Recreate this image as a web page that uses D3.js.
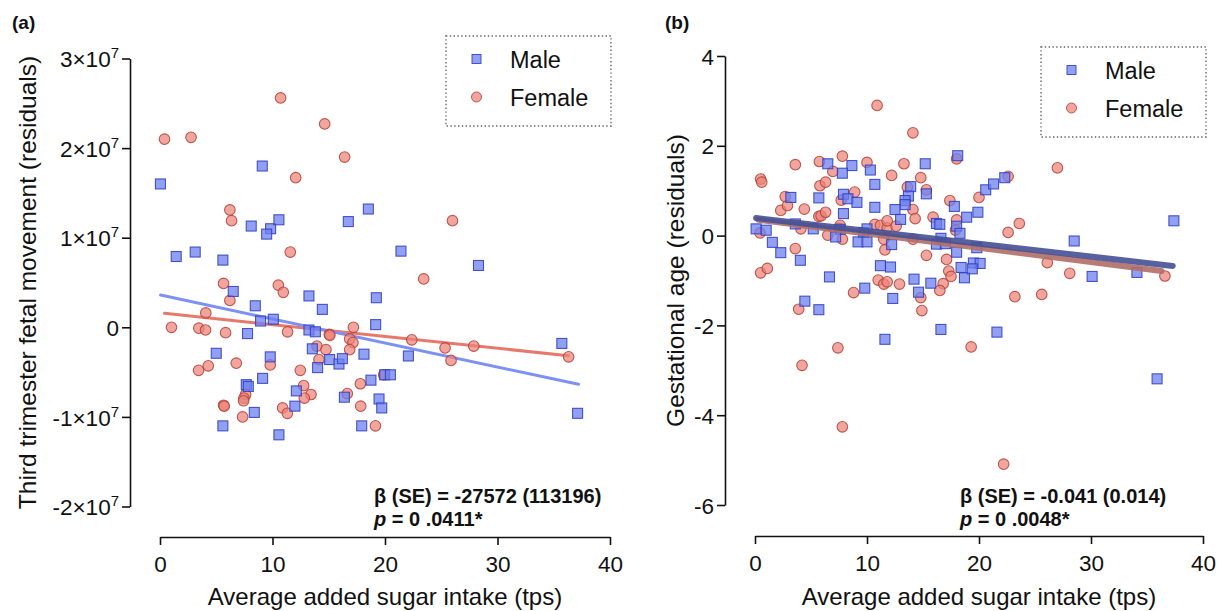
<!doctype html>
<html>
<head>
  <meta charset="utf8">
  <title>sugar intake</title>
  <style>
    body { margin: 0; padding: 0; background: #fff; }
    svg { display: block; }
  </style>
</head>
<body>
  <svg id="chart"></svg>

  <script src="https://d3js.org/d3.v7.min.js"></script>
  <script>
    // Two residual scatter plots vs average added sugar intake, by sex
    const width = 1223
    const height = 611
    const font = '"Liberation Sans", Arial, Helvetica, sans-serif'

    const series = ['Male', 'Female']
    const xTicks = [0, 10, 20, 30, 40]
    const movementTicks = [-2, -1, 0, 1, 2, 3]   // in units of 10^7
    const gestTicks = [-6, -4, -2, 0, 2, 4]

    // (a) third trimester fetal movement residuals, y in units of 10^7
    const movementMale = [
      [0.04, 1.60], [9.09, 1.80], [1.44, 0.79], [3.13, 0.84], [5.59, 0.75], [8.11, 1.13], [9.83, 1.10],
      [9.48, 1.04], [10.57, 1.20], [6.51, 0.40], [8.47, 0.24], [8.94, 0.07], [10.07, 0.09], [7.78, -0.07],
      [13.24, 0.35], [14.43, 0.20], [13.24, -0.03], [13.81, -0.05], [18.52, 1.32], [16.74, 1.18],
      [19.23, 0.33], [19.17, 0.03], [5.0, -0.29], [9.8, -0.33], [13.54, -0.24], [14.01, -0.45],
      [15.08, -0.36], [15.91, -0.41], [16.21, -0.35], [18.13, -0.30], [9.12, -0.57], [7.67, -0.64],
      [7.85, -0.66], [12.12, -0.71], [16.39, -0.78], [18.75, -0.59], [19.47, -0.80], [11.99, -0.88],
      [8.38, -0.95], [5.59, -1.10], [10.57, -1.20], [17.93, -1.10], [21.42, 0.85], [28.31, 0.69],
      [22.08, -0.32], [35.72, -0.18], [19.97, -0.53], [20.48, -0.53], [19.71, -0.90], [37.12, -0.96]
    ]
    const movementFemale = [
      [0.40, 2.10], [2.76, 2.12], [10.72, 2.56], [14.64, 2.27], [16.41, 1.90], [12.06, 1.67], [6.21, 1.31],
      [6.36, 1.19], [11.58, 0.84], [5.65, 0.49], [6.21, 0.30], [10.52, 0.47], [10.96, 0.39], [4.07, 0.16],
      [1.02, 0.00], [3.45, -0.01], [4.05, -0.03], [5.83, -0.06], [11.34, -0.05], [15.05, -0.08],
      [15.10, -0.09], [17.19, 0.00], [16.86, -0.13], [17.15, -0.17], [13.95, -0.21], [14.75, -0.25],
      [16.86, -0.25], [14.13, -0.36], [3.43, -0.48], [4.29, -0.43], [6.78, -0.40], [9.80, -0.42],
      [12.47, -0.48], [12.77, -0.65], [13.42, -0.75], [12.83, -0.79], [7.61, -0.75], [7.46, -0.79],
      [7.43, -0.82], [5.65, -0.87], [5.71, -0.88], [7.34, -1.00], [10.90, -0.90], [11.32, -0.96],
      [17.81, -0.63], [16.65, -0.74], [17.84, -0.88], [19.15, -1.10], [26.0, 1.19], [23.44, 0.54],
      [22.38, -0.14], [25.34, -0.23], [27.89, -0.21], [25.87, -0.37], [36.32, -0.33], [19.88, -0.53]
    ]
    const movementFitMale = [[0.05, 0.36], [37.2, -0.636]]
    const movementFitFemale = [[0.4, 0.156], [36.3, -0.317]]

    // (b) gestational age residuals
    const gestMale = [
      [6.5, 1.60], [8.65, 1.56], [7.8, 1.39], [10.3, 1.46], [15.2, 1.60], [18.1, 1.78], [10.7, 1.14],
      [13.9, 1.09], [13.7, 0.88], [13.4, 0.78], [13.4, 0.69], [15.3, 0.93], [3.2, 0.85], [5.7, 0.84],
      [7.9, 0.92], [8.3, 0.82], [9.1, 0.74], [10.7, 0.63], [12.5, 0.58], [13.0, 0.36], [17.8, 0.65],
      [7.9, 0.49], [0.1, 0.15], [1.0, 0.12], [3.6, 0.26], [5.2, 0.15], [7.6, 0.14], [7.2, -0.03],
      [9.7, 0.07], [10.0, 0.15], [9.2, -0.14], [10.0, -0.14], [12.2, -0.20], [16.2, 0.27], [16.5, 0.25],
      [18.0, 0.21], [18.3, 0.05], [16.6, -0.06], [16.2, -0.19], [17.0, -0.18], [1.55, -0.15], [2.3, -0.38],
      [4.05, -0.55], [11.2, -0.67], [12.1, -0.70], [18.0, -0.37], [18.4, -0.71], [18.7, -0.94], [6.65, -0.92],
      [14.2, -0.97], [15.7, -1.06], [9.8, -1.17], [14.6, -1.26], [12.3, -1.40], [4.45, -1.46], [5.7, -1.65],
      [19.8, -0.27], [19.5, -0.61], [20.1, -0.62], [19.4, -0.74], [20.6, 1.02], [21.3, 1.15], [22.3, 1.29],
      [19.9, 0.52], [18.9, 0.41], [28.5, -0.12], [30.1, -0.91], [34.1, -0.82], [37.4, 0.33],
      [16.6, -2.09], [21.6, -2.15], [11.6, -2.31], [35.9, -3.19]
    ]
    const gestFemale = [
      [14.1, 2.29], [10.9, 2.90], [3.6, 1.58], [5.75, 1.65], [7.8, 1.77], [10.0, 1.63], [13.3, 1.60],
      [12.2, 1.34], [14.8, 1.29], [0.5, 1.26], [0.6, 1.19], [6.95, 1.43], [5.8, 1.11], [6.3, 1.19],
      [8.9, 0.97], [13.6, 1.08], [15.3, 1.02], [2.7, 0.87], [2.3, 0.56], [2.9, 0.67], [4.4, 0.59],
      [5.7, 0.43], [5.9, 0.44], [6.3, 0.52], [7.7, 0.79], [7.5, 0.16], [7.6, 0.23], [4.1, 0.15],
      [0.45, 0.06], [6.5, 0.01], [7.8, -0.08], [10.7, 0.25], [11.2, 0.23], [11.8, 0.17], [12.6, 0.21],
      [11.8, 0.33], [14.1, 0.58], [14.3, 0.38], [15.9, 0.41], [17.4, 0.78], [18.0, 0.35], [17.9, 0.12],
      [11.5, -0.08], [11.6, -0.32], [14.1, -0.08], [15.3, -0.44], [17.1, -0.53], [3.6, -0.29],
      [0.5, -0.83], [1.1, -0.73], [11.0, -0.99], [11.5, -1.08], [11.8, -1.03], [12.9, -1.08],
      [17.3, -0.79], [17.5, -0.91], [16.8, -1.07], [16.5, -1.22], [8.8, -1.27], [14.8, -1.38],
      [3.9, -1.64], [14.9, -1.67], [18.0, 1.71], [20.0, 0.85], [22.6, 1.32], [27.0, 1.51], [23.6, 0.27],
      [22.6, 0.07], [26.1, -0.60], [28.1, -0.84], [36.6, -0.90], [23.2, -1.36], [25.6, -1.31],
      [7.4, -2.50], [4.2, -2.89], [19.3, -2.48], [7.8, -4.26], [22.2, -5.09]
    ]
    const gestFitMale = [[0.1, 0.39], [37.3, -0.675]]
    const gestFitFemale = [[0.3, 0.35], [36.3, -0.79]]

    const svg = d3.select('#chart')
      .attr('width', width)
      .attr('height', height)
      .style('font-family', font)

    svg.append('rect').attr('width', width).attr('height', height).attr('fill', '#fff')

    const maleFill = 'rgba(110,128,240,0.75)'
    const maleStroke = 'rgba(45,60,190,0.85)'
    const femaleFill = 'rgba(234,132,122,0.72)'
    const femaleStroke = 'rgba(185,62,52,0.85)'

    function sciLabel (sel, d) {
      // "3×10^7" style labels, hyphen minus like the original
      if (d === 0) { sel.text('0'); return }
      sel.text(null)
      sel.append('tspan').text((d < 0 ? '-' : '') + Math.abs(d) + '×10')
      sel.append('tspan').attr('dy', -9).style('font-size', '15px').text('7')
    }

    function drawPanel (p) {
      const g = svg.append('g')

      const x = d3.scaleLinear().domain([0, 40]).range(p.xRange)
      const y = d3.scaleLinear().domain(p.yDomain).range(p.yRange)

      // x axis, offset below the plot
      const xg = g.append('g')
        .attr('transform', `translate(0,${p.xAxisY})`)
        .call(d3.axisBottom(x).tickValues(xTicks).tickSize(8).tickSizeOuter(0).tickPadding(7))
      // y axis, offset to the left
      const yg = g.append('g')
        .attr('transform', `translate(${p.yAxisX},0)`)
        .call(d3.axisLeft(y).tickValues(p.yTicks).tickSize(8).tickSizeOuter(0).tickPadding(3)
          .tickFormat(d => String(d).replace('−', '-')))

      for (const ax of [xg, yg]) {
        ax.select('.domain').attr('stroke', '#111').attr('stroke-width', 1.6)
        ax.selectAll('.tick line').attr('stroke', '#111').attr('stroke-width', 1.6)
        ax.selectAll('.tick text')
          .attr('fill', '#111')
          .style('font-family', font)
          .style('font-size', '22.5px')
      }
      xg.selectAll('.tick text').attr('dy', '0.9em')
      yg.selectAll('.tick text').attr('dy', '0.36em')
      if (p.sci) yg.selectAll('.tick text').each(function (d) { sciLabel(d3.select(this), d) })

      const line = d3.line().x(d => x(d[0])).y(d => y(d[1]))
      const lines = g.append('g')
      lines.append('path').datum(p.fitFemale)
        .attr('d', line).attr('fill', 'none')
        .attr('stroke', p.femaleLine).attr('stroke-width', p.lineWidth).attr('stroke-linecap', 'round')
      lines.append('path').datum(p.fitMale)
        .attr('d', line).attr('fill', 'none')
        .attr('stroke', p.maleLine).attr('stroke-width', p.lineWidth).attr('stroke-linecap', 'round')

      const pts = g.append('g')
      pts.selectAll('circle').data(p.female).join('circle')
        .attr('cx', d => x(d[0])).attr('cy', d => y(d[1])).attr('r', 5.3)
        .attr('fill', femaleFill).attr('stroke', femaleStroke).attr('stroke-width', 1.1)
      pts.selectAll('rect').data(p.male).join('rect')
        .attr('x', d => x(d[0]) - 5).attr('y', d => y(d[1]) - 5)
        .attr('width', 10).attr('height', 10)
        .attr('fill', maleFill).attr('stroke', maleStroke).attr('stroke-width', 1.1)

      if (p.linesOnTop) lines.raise()

      // panel letter
      g.append('text').attr('x', p.letterX).attr('y', 29)
        .style('font-size', '19px').style('font-weight', 'bold').attr('fill', '#111')
        .text(p.letter)

      // axis titles
      g.append('text')
        .attr('x', (p.xRange[0] + p.xRange[1]) / 2).attr('y', 605)
        .attr('text-anchor', 'middle').style('font-size', '24px').attr('fill', '#111')
        .text('Average added sugar intake (tps)')
      g.append('text')
        .attr('transform', `translate(${p.yTitleX},${(p.yRange[0] + p.yRange[1]) / 2}) rotate(-90)`)
        .attr('text-anchor', 'middle').style('font-size', '24.5px').attr('fill', '#111')
        .text(p.yTitle)

      // legend
      const lg = g.append('g').attr('transform', `translate(${p.legend[0]},${p.legend[1]})`)
      lg.append('rect').attr('width', 165).attr('height', 90)
        .attr('fill', 'none').attr('stroke', '#8a8a8a').attr('stroke-width', 1.8)
        .attr('stroke-dasharray', '1.4,2.4')
      series.forEach((s, i) => {
        const cy = 23 + i * 38
        if (s === 'Male') {
          lg.append('rect').attr('x', 26).attr('y', cy - 4.5).attr('width', 9).attr('height', 9)
            .attr('fill', maleFill).attr('stroke', maleStroke).attr('stroke-width', 1)
        } else {
          lg.append('circle').attr('cx', 30.5).attr('cy', cy).attr('r', 5)
            .attr('fill', femaleFill).attr('stroke', femaleStroke).attr('stroke-width', 1)
        }
        lg.append('text').attr('x', 64).attr('y', cy + 8.5)
          .style('font-size', '23.5px').attr('fill', '#111').text(s)
      })

      // statistics note
      const note = g.append('text').attr('x', p.noteX).attr('y', 503)
        .style('font-size', '20px').style('font-weight', 'bold').attr('fill', '#111')
      note.text(p.beta)
      const pt = g.append('text').attr('x', p.noteX).attr('y', 526)
        .style('font-size', '20px').style('font-weight', 'bold').attr('fill', '#111')
      pt.append('tspan').style('font-style', 'italic').text('p')
      pt.append('tspan').text(' = ' + p.pval)
    }

    drawPanel({
      letter: '(a)', letterX: 12,
      xRange: [160, 610], yDomain: [-2, 3], yRange: [506.5, 58.5],
      xAxisY: 537, yAxisX: 130, yTicks: movementTicks, sci: true,
      male: movementMale, female: movementFemale,
      fitMale: movementFitMale, fitFemale: movementFitFemale,
      maleLine: '#7d90f4', femaleLine: '#e6796c', lineWidth: 3, linesOnTop: false,
      yTitle: 'Third trimester fetal movement (residuals)', yTitleX: 36,
      legend: [446, 36],
      noteX: 374, beta: 'β (SE) = -27572 (113196)', pval: '0 .0411*'
    })

    drawPanel({
      letter: '(b)', letterX: 665,
      xRange: [755, 1203], yDomain: [-6, 4], yRange: [505, 56],
      xAxisY: 536, yAxisX: 725, yTicks: gestTicks, sci: false,
      male: gestMale, female: gestFemale,
      fitMale: gestFitMale, fitFemale: gestFitFemale,
      maleLine: 'rgba(70,80,150,0.9)', femaleLine: 'rgba(176,110,104,0.9)', lineWidth: 6, linesOnTop: true,
      yTitle: 'Gestational age (residuals)', yTitleX: 684,
      legend: [1041, 47],
      noteX: 960, beta: 'β (SE) = -0.041 (0.014)', pval: '0 .0048*'
    })
  </script>
</body>
</html>
